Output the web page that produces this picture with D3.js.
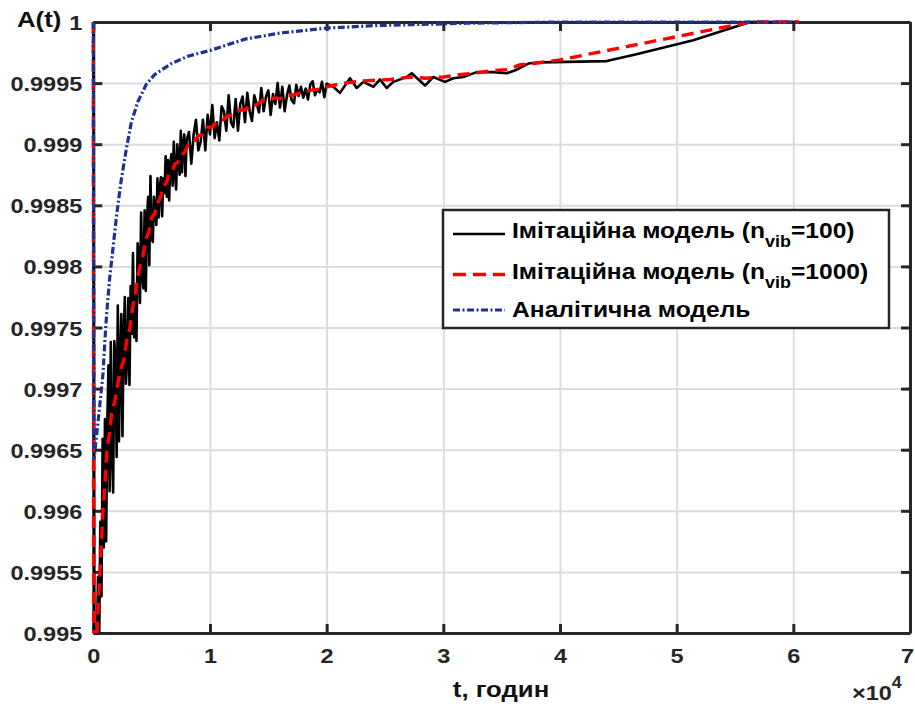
<!DOCTYPE html>
<html><head><meta charset="utf-8">
<script src="https://cdn.jsdelivr.net/npm/d3@7"></script>
<style>
body{margin:0;background:#fff}
svg{display:block}
text{font-family:"Liberation Sans",Arial,sans-serif;font-weight:bold}
</style>
</head><body><svg id="c" width="915" height="707"></svg>
<script>
// ---------- data ----------
const tTickVals = [0,10000,20000,30000,40000,50000,60000,70000];
const tTickLabels = ["0","1","2","3","4","5","6","7"];
const aTickVals = [0.995,0.9955,0.996,0.9965,0.997,0.9975,0.998,0.9985,0.999,0.9995,1];
const aTickLabels = ["0.995","0.9955","0.996","0.9965","0.997","0.9975","0.998","0.9985","0.999","0.9995","1"];

// analytic model
const analyticT = [0,60,150,400,830,1000,1150,1400,1700,2000,2400,2830,3260,3830,4540,5260,6690,8120,10100,13000,16000,20000,24000,28000,32000,40000,50000,60500];
const analyticA = [1,0.99642,0.99650,0.99672,0.99712,0.99740,0.99762,0.99790,0.99816,0.99842,0.99871,0.99896,0.99918,0.99935,0.99949,0.99957,0.99966,0.99972,0.99977,0.99986,0.99991,0.99995,0.99997,0.99998,0.99999,1,1,1];

// simulation model n_vib = 1000
const sim1000T = [0,40,320,570,830,1000,1170,1400,1600,1800,2030,2300,2600,2900,3140,3400,3600,3800,4000,4250,4500,4750,5000,5250,5460,5750,6000,6250,6500,6750,7000,7250,7500,7800,8120,8500,9000,9400,9830,10200,10600,11000,11500,12000,12500,13000,13500,14000,14500,15000,15500,16000,16500,17000,17700,18570,19300,20000,21500,23430,25500,27140,28500,30000,31500,32570,34000,35430,36600,37714,40000,56300,60500];
const sim1000A = [1,0.9940,0.99500,0.99550,0.99600,0.99622,0.99650,0.99664,0.99682,0.99688,0.99700,0.99714,0.99723,0.99741,0.99750,0.99768,0.99776,0.99791,0.99800,0.99808,0.99822,0.99828,0.99840,0.99843,0.99851,0.99856,0.99866,0.99868,0.99876,0.99877,0.99884,0.99885,0.99891,0.99893,0.99899,0.99900,0.99907,0.99908,0.99914,0.99914,0.99919,0.99919,0.99923,0.99924,0.99928,0.99928,0.99932,0.99932,0.99936,0.99935,0.99938,0.99937,0.99940,0.99940,0.99942,0.99944,0.99945,0.99947,0.99950,0.99952,0.99953,0.99955,0.99954,0.99955,0.99957,0.99958,0.99960,0.99961,0.99965,0.99966,0.99969,1,1];

// simulation model n_vib = 100
const sim100T = [0,100,200,300,400,500,600,700,800,900,1000,1100,1200,1300,1400,1500,1600,1700,1800,1900,2000,2100,2200,2300,2400,2500,2600,2700,2800,2900,3000,3100,3200,3300,3400,3500,3600,3700,3800,3900,4000,4100,4200,4300,4400,4500,4600,4700,4800,4900,5000,5100,5200,5300,5400,5500,5600,5700,5800,5900,6000,6100,6200,6300,6400,6500,6600,6700,6800,6900,7000,7100,7200,7300,7400,7500,7600,7700,7800,7900,8000,8200,8400,8600,8800,9000,9200,9400,9600,9800,10000,10200,10400,10600,10800,11000,11200,11400,11600,11800,12000,12200,12400,12600,12800,13000,13200,13400,13600,13800,14000,14200,14400,14600,14800,15000,15200,15400,15600,15800,16000,16200,16400,16600,16800,17000,17200,17400,17600,17800,18000,18200,18400,18600,18800,19000,19200,19400,19600,19800,20000,20571,21143,22000,22576,23142,24000,24573,25147,25713,26862,27290,28430,29141,30144,30856,31713,32862,34285,35433,36290,37284,38287,44003,46284,51426,56286,60500];
const sim100A = [1,0.99410,0.99470,0.99480,0.99546,0.99486,0.99591,0.99530,0.99659,0.99570,0.99675,0.99575,0.99672,0.99719,0.99616,0.99738,0.99650,0.99615,0.99739,0.99724,0.99644,0.99768,0.99657,0.99722,0.99761,0.99661,0.99740,0.99775,0.99704,0.99724,0.99774,0.99703,0.99784,0.99745,0.99811,0.99742,0.99778,0.99739,0.99819,0.99810,0.99770,0.99844,0.99793,0.99782,0.99846,0.99780,0.99839,0.99857,0.99801,0.99874,0.99823,0.99820,0.99857,0.99846,0.99834,0.99872,0.99840,0.99864,0.99873,0.99841,0.99872,0.99860,0.99890,0.99857,0.99887,0.99854,0.99884,0.99892,0.99866,0.99902,0.99876,0.99863,0.99900,0.99887,0.99875,0.99911,0.99877,0.99900,0.99908,0.99874,0.99903,0.99910,0.99884,0.99908,0.99920,0.99895,0.99902,0.99920,0.99895,0.99924,0.99908,0.99932,0.99905,0.99918,0.99903,0.99931,0.99927,0.99911,0.99940,0.99918,0.99914,0.99937,0.99911,0.99933,0.99939,0.99918,0.99942,0.99927,0.99919,0.99940,0.99933,0.99926,0.99946,0.99927,0.99939,0.99944,0.99924,0.99941,0.99933,0.99950,0.99930,0.99947,0.99927,0.99940,0.99948,0.99936,0.999335,0.999485,0.999395,0.99947,0.99938,0.999455,0.999365,0.99949,0.999515,0.99940,0.99945,0.999425,0.99951,0.999385,0.999495,0.99947,0.99942,0.99954,0.99946,0.99951,0.99947,0.99953,0.99946,0.99951,0.99955,0.99958,0.99948,0.99955,0.99951,0.99954,0.99955,0.99959,0.99959,0.99958,0.99961,0.99966,0.99967,0.99968,0.99973,0.99985,1,1];

const legendMain = ["Імітаційна модель (n","Імітаційна модель (n","Аналітична модель"];
const legendSub = ["vib","vib",""];
const legendTail = ["=100)","=1000)",""];

// ---------- drawing ----------
const W=915,H=707, L=93.3, R=910, T=22, B=633, SX=1.12;
const x=d3.scaleLinear().domain([0,70000]).range([L,R]);
const y=d3.scaleLinear().domain([0.995,1]).range([B,T]);
const svg=d3.select("#c");
svg.append("rect").attr("width",W).attr("height",H).attr("fill","#fff");

const axisColor="#262626";
// grid
svg.append("g").attr("transform",`translate(0,${B})`)
  .call(d3.axisBottom(x).tickValues(tTickVals).tickSize(-(B-T)).tickFormat(""))
  .call(g=>{g.select(".domain").remove();g.selectAll("line").attr("stroke","#dcdcdc").attr("stroke-width",2);});
svg.append("g").attr("transform",`translate(${L},0)`)
  .call(d3.axisLeft(y).tickValues(aTickVals).tickSize(-(R-L)).tickFormat(""))
  .call(g=>{g.select(".domain").remove();g.selectAll("line").attr("stroke","#dcdcdc").attr("stroke-width",2);});

function styleAxis(g){
  g.attr("font-family",null).attr("font-size",null);
  g.select(".domain").attr("stroke",axisColor).attr("stroke-width",3);
  g.selectAll(".tick line").attr("stroke",axisColor).attr("stroke-width",3);
}
// bottom
svg.append("g").attr("transform",`translate(0,${B})`)
  .call(d3.axisBottom(x).tickValues(tTickVals).tickSizeInner(-9).tickSizeOuter(0).tickPadding(0).tickFormat((d,i)=>tTickLabels[i]))
  .call(styleAxis)
  .call(g=>g.selectAll(".tick text").attr("y",null).attr("dy",null).attr("fill","#262626").attr("font-size",21)
     .attr("transform",(d,i)=>`translate(${i===tTickVals.length-1?-3:0},30) scale(${SX},1)`));
// top
svg.append("g").attr("transform",`translate(0,${T})`)
  .call(d3.axisTop(x).tickValues(tTickVals).tickSizeInner(-9).tickSizeOuter(0).tickFormat(""))
  .call(styleAxis);
// left
svg.append("g").attr("transform",`translate(${L},0)`)
  .call(d3.axisLeft(y).tickValues(aTickVals).tickSizeInner(-9).tickSizeOuter(0).tickPadding(0).tickFormat((d,i)=>aTickLabels[i]))
  .call(styleAxis)
  .call(g=>g.selectAll(".tick text").attr("x",null).attr("dy",null).attr("fill","#262626").attr("font-size",21)
     .attr("transform",`translate(-11,7.5) scale(${SX},1)`));
// right
svg.append("g").attr("transform",`translate(${R},0)`)
  .call(d3.axisRight(y).tickValues(aTickVals).tickSizeInner(-9).tickSizeOuter(0).tickFormat(""))
  .call(styleAxis);

// data lines
svg.append("clipPath").attr("id","clip").append("rect")
  .attr("x",L-4).attr("y",T-4).attr("width",R-L+4).attr("height",B-T+4);
const plot=svg.append("g").attr("clip-path","url(#clip)");
const line=d3.line().x(d=>x(d[0])).y(d=>y(d[1]));
const zip=(a,b)=>a.map((v,i)=>[v,b[i]]);

plot.append("path").datum(zip(sim100T,sim100A)).attr("d",line)
  .attr("fill","none").attr("stroke","#000").attr("stroke-width",2.6).attr("stroke-linejoin","round");
plot.append("path").datum(zip(sim1000T,sim1000A)).attr("d",line)
  .attr("fill","none").attr("stroke","#ff0000").attr("stroke-width",3.4).attr("stroke-dasharray","12,7");
plot.append("path").datum(zip(analyticT,analyticA)).attr("d",line)
  .attr("fill","none").attr("stroke","#1f3292").attr("stroke-width",3.2).attr("stroke-dasharray","7,2.5,2,2.5");

// legend
const lg=svg.append("g");
lg.append("rect").attr("x",443).attr("y",210).attr("width",446).attr("height",118)
  .attr("fill","#fff").attr("stroke",axisColor).attr("stroke-width",2.5);
const rowLineY=[234,274.5,310];
const rowBase=[238,278.5,317];
const styles=[{c:"#000",w:2.6,d:null},{c:"#ff0000",w:3.4,d:"13,7"},{c:"#1f3292",w:3.2,d:"7,2.5,2,2.5"}];
legendMain.forEach((m,i)=>{
  lg.append("line").attr("x1",453).attr("x2",505).attr("y1",rowLineY[i]).attr("y2",rowLineY[i])
    .attr("stroke",styles[i].c).attr("stroke-width",styles[i].w).attr("stroke-dasharray",styles[i].d);
  const t=lg.append("text").attr("transform",`translate(512,${rowBase[i]}) scale(${SX},1)`)
    .attr("font-size",22).attr("fill","#000");
  t.append("tspan").text(m);
  if(legendSub[i]){
    t.append("tspan").attr("font-size",16).attr("dy",9).text(legendSub[i]);
    t.append("tspan").attr("dy",-9).text(legendTail[i]);
  }
});

// axis titles
svg.append("text").attr("transform",`translate(17,27) scale(${SX},1)`).attr("font-size",23).attr("fill","#111").text("A(t)");
svg.append("text").attr("transform",`translate(501,697) scale(${SX},1)`).attr("text-anchor","middle").attr("font-size",23).attr("fill","#111").text("t, годин");
const ex=svg.append("text").attr("transform",`translate(852,700) scale(${SX},1)`).attr("font-size",21).attr("fill","#262626");
ex.append("tspan").text("×10");
ex.append("tspan").attr("font-size",16).attr("dy",-12).text("4");
</script>
</body></html>
